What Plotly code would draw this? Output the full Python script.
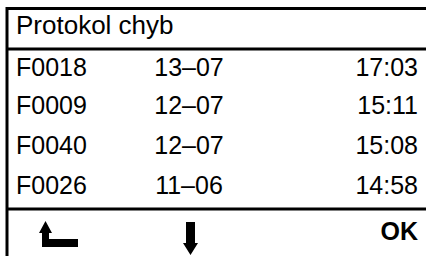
import plotly.graph_objects as go

title = "Protokol chyb"
codes = ["F0018", "F0009", "F0040", "F0026"]
dates = ["13–07", "12–07", "12–07", "11–06"]
times = ["17:03", "15:11", "15:08", "14:58"]
ok_label = "OK"

W, H = 426, 256
row_y = [70, 108, 148, 188]
FONT = "Liberation Sans, Arial, sans-serif"

fig = go.Figure()
fig.add_trace(go.Scatter(x=[16], y=[27], mode="text", text=[title],
                         textposition="middle right",
                         textfont=dict(family=FONT, size=26, color="#000")))
fig.add_trace(go.Scatter(x=[16] * len(codes), y=row_y, mode="text", text=codes,
                         textposition="middle right",
                         textfont=dict(family=FONT, size=25, color="#000")))
fig.add_trace(go.Scatter(x=[189] * len(dates), y=row_y, mode="text", text=dates,
                         textposition="middle center",
                         textfont=dict(family=FONT, size=25, color="#000")))
fig.add_trace(go.Scatter(x=[418] * len(times), y=row_y, mode="text", text=times,
                         textposition="middle left",
                         textfont=dict(family=FONT, size=25, color="#000")))
fig.add_trace(go.Scatter(x=[418], y=[234], mode="text", text=["<b>" + ok_label + "</b>"],
                         textposition="middle left",
                         textfont=dict(family=FONT, size=25, color="#000")))

line = dict(color="#000", width=3)
shapes = [
    dict(type="line", x0=7, x1=W, y0=8.5, y1=8.5, line=line),
    dict(type="line", x0=7, x1=7, y0=7, y1=H, line=line),
    dict(type="line", x0=7, x1=W, y0=49, y1=49, line=line),
    dict(type="line", x0=7, x1=W, y0=209, y1=209, line=line),
    # return arrow icon
    dict(type="path", path="M39,233 L45.5,221 L52,233 L49,233 L49,239 L78,239 L78,247 L42,247 L42,233 Z",
         fillcolor="#000", line=dict(width=0)),
    # down arrow icon
    dict(type="path", path="M186,222 L195,222 L195,243 L198,243 L190.5,255 L183,243 L186,243 Z",
         fillcolor="#000", line=dict(width=0)),
]

fig.update_layout(
    width=W, height=H, margin=dict(l=0, r=0, t=0, b=0),
    paper_bgcolor="white", plot_bgcolor="white", showlegend=False,
    xaxis=dict(range=[0, W], visible=False, fixedrange=True),
    yaxis=dict(range=[H, 0], visible=False, fixedrange=True),
    shapes=shapes,
)
fig.write_html("out.html", config={"displayModeBar": False},
               post_script="document.body.style.margin='0';document.body.style.overflow='hidden';")
